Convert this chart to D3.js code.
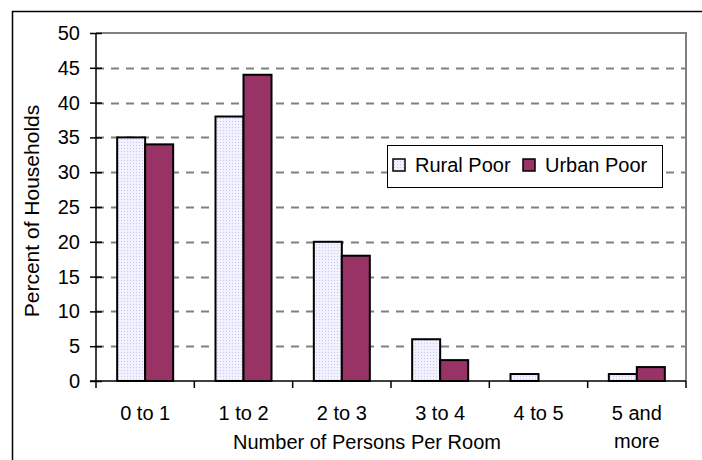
<!DOCTYPE html>
<html>
<head>
<meta charset="utf-8">
<script src="https://cdn.jsdelivr.net/npm/d3@7"></script>
<style>
  body { margin: 0; background: #fff; }
  svg { display: block; font-family: "Liberation Sans", Arial, sans-serif; }
</style>
</head>
<body>
<svg></svg>
<script>
// chart data
const categories = ["0 to 1", "1 to 2", "2 to 3", "3 to 4", "4 to 5", "5 and\nmore"];
const seriesNames = ["Rural Poor", "Urban Poor"];
const ruralPoor = [35, 38, 20, 6, 1, 1];
const urbanPoor = [34, 44, 18, 3, 0, 2];
const yTicks = [0, 5, 10, 15, 20, 25, 30, 35, 40, 45, 50];

let svg = d3.select("svg").attr("width", 702).attr("height", 460);

const plot = { left: 96, right: 686, top: 33, bottom: 381 };
const fontSize = 20;

// dotted fill for rural bars
let defs = svg.append("defs");
let pat = defs.append("pattern")
    .attr("id", "dots")
    .attr("width", 3).attr("height", 3)
    .attr("patternUnits", "userSpaceOnUse");
pat.append("rect").attr("width", 3).attr("height", 3).attr("fill", "#f2f2ff");
pat.append("rect").attr("x", 1).attr("y", 1).attr("width", 1).attr("height", 1).attr("fill", "#c8c8f4");

// outer chart border (clipped by window)
svg.append("path")
    .attr("d", "M12.5,460 V11.5 H702")
    .attr("fill", "none")
    .attr("stroke", "#000")
    .attr("stroke-width", 1.5);

let x = d3.scaleBand().domain(categories).range([plot.left, plot.right]);
let y = d3.scaleLinear().domain([0, 50]).range([plot.bottom, plot.top]);

// gridlines
svg.append("g")
    .selectAll("line")
    .data(yTicks.filter(d => d > 0 && d < 50))
    .join("line")
    .attr("x1", plot.left).attr("x2", plot.right)
    .attr("y1", d => Math.round(y(d)) + 0.5).attr("y2", d => Math.round(y(d)) + 0.5)
    .attr("stroke", "#808080")
    .attr("stroke-width", 2)
    .attr("stroke-dasharray", "8,7");

// plot frame top/right
svg.append("path")
    .attr("d", `M${plot.left},${plot.top} H${plot.right} V${plot.bottom}`)
    .attr("fill", "none")
    .attr("stroke", "#808080")
    .attr("stroke-width", 2);

// bars
const barW = 28;
const groupOff = (x.bandwidth() - 2 * barW) / 2;
const series = [
    { name: seriesNames[0], values: ruralPoor, fill: "url(#dots)" },
    { name: seriesNames[1], values: urbanPoor, fill: "#993366" }
];

series.forEach((s, si) => {
    let rows = s.values.map((v, i) => ({ cat: categories[i], v: v })).filter(d => d.v > 0);
    svg.append("g")
        .selectAll("rect")
        .data(rows)
        .join("rect")
        .attr("x", d => x(d.cat) + groupOff + si * barW)
        .attr("y", d => y(d.v))
        .attr("width", barW)
        .attr("height", d => y(0) - y(d.v))
        .attr("fill", s.fill)
        .attr("stroke", "#000")
        .attr("stroke-width", 2);
});

// y axis
let yAxis = svg.append("g")
    .attr("transform", `translate(${plot.left},0)`)
    .call(d3.axisLeft(y).tickValues(yTicks).tickSize(6).tickPadding(10));
yAxis.select(".domain").remove();
yAxis.selectAll(".tick line").attr("x1", -6).attr("x2", 6).attr("stroke", "#000").attr("stroke-width", 1.5);
yAxis.selectAll(".tick text")
    .attr("font-size", fontSize)
    .attr("fill", "#000")
    .style("font-family", "'Liberation Sans', Arial, sans-serif");
svg.append("line")
    .attr("x1", plot.left).attr("x2", plot.left)
    .attr("y1", plot.top).attr("y2", plot.bottom)
    .attr("stroke", "#000").attr("stroke-width", 1.5);

// x axis
svg.append("line")
    .attr("x1", plot.left - 6).attr("x2", plot.right)
    .attr("y1", plot.bottom).attr("y2", plot.bottom)
    .attr("stroke", "#000").attr("stroke-width", 1.5);
svg.append("g")
    .selectAll("line")
    .data(d3.range(categories.length + 1))
    .join("line")
    .attr("x1", i => plot.left + i * x.step())
    .attr("x2", i => plot.left + i * x.step())
    .attr("y1", plot.bottom).attr("y2", plot.bottom + 7)
    .attr("stroke", "#000").attr("stroke-width", 1.5);

let xl = svg.append("g")
    .selectAll("text")
    .data(categories)
    .join("text")
    .attr("y", 420)
    .attr("text-anchor", "middle")
    .attr("font-size", fontSize)
    .attr("fill", "#000");
xl.each(function (d) {
    d3.select(this).selectAll("tspan")
        .data(d.split("\n"))
        .join("tspan")
        .attr("x", x(d) + x.bandwidth() / 2)
        .attr("dy", (l, i) => i === 0 ? 0 : 28)
        .text(l => l);
});

// axis titles
svg.append("text")
    .attr("x", 367)
    .attr("y", 449)
    .attr("text-anchor", "middle")
    .attr("font-size", fontSize)
    .text("Number of Persons Per Room");
svg.append("text")
    .attr("transform", "translate(39,211) rotate(-90)")
    .attr("text-anchor", "middle")
    .attr("font-size", 21)
    .text("Percent of Households");

// legend
let lg = svg.append("g").attr("transform", "translate(387,145)");
lg.append("rect")
    .attr("x", 0.5).attr("y", 0.5).attr("width", 275).attr("height", 42)
    .attr("fill", "#fff").attr("stroke", "#000").attr("stroke-width", 1);
const legX = [6, 136];
series.forEach((s, i) => {
    lg.append("rect")
        .attr("x", legX[i]).attr("y", 14)
        .attr("width", 12).attr("height", 12)
        .attr("fill", s.fill)
        .attr("stroke", "#000").attr("stroke-width", 1.5);
    lg.append("text")
        .attr("x", legX[i] + 22).attr("y", 27)
        .attr("font-size", fontSize)
        .text(s.name);
});
</script>
</body>
</html>
